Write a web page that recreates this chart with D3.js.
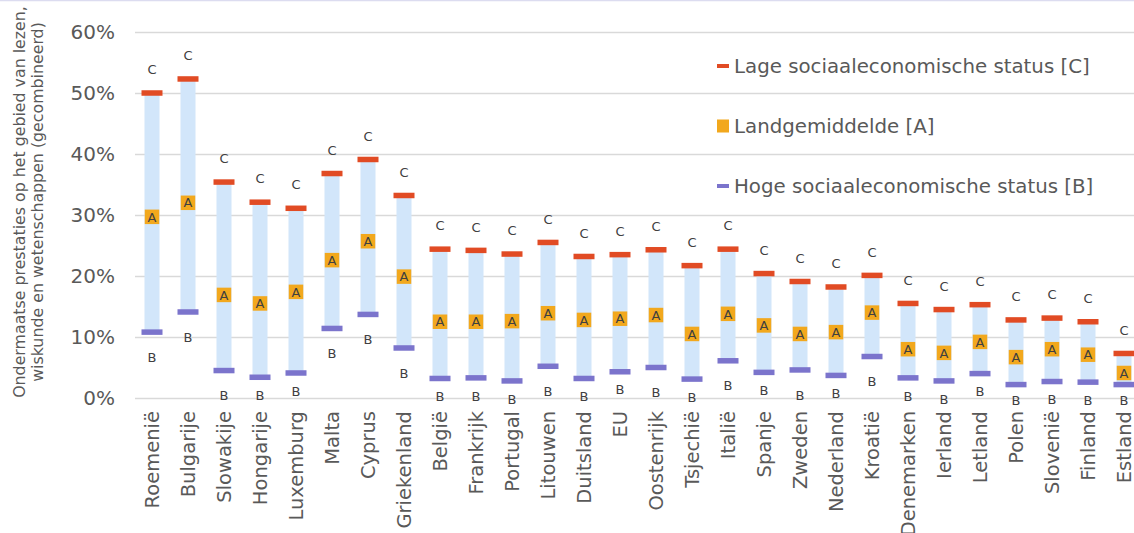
<!DOCTYPE html>
<html>
<head>
<meta charset="utf-8">
<script src="https://cdn.jsdelivr.net/npm/d3@7"></script>
<style>
  body { margin: 0; background: #fff; }
  svg { display: block; font-family: "DejaVu Sans", Verdana, sans-serif; }
</style>
</head>
<body>
<div id="chart"></div>
<script>
// countries, sorted as in the source figure
const countries = ["Roemenië", "Bulgarije", "Slowakije", "Hongarije", "Luxemburg", "Malta", "Cyprus",
  "Griekenland", "België", "Frankrijk", "Portugal", "Litouwen", "Duitsland", "EU", "Oostenrijk",
  "Tsjechië", "Italië", "Spanje", "Zweden", "Nederland", "Kroatië", "Denemarken", "Ierland",
  "Letland", "Polen", "Slovenië", "Finland", "Estland"];

// [C] lage sociaaleconomische status (%)
const lowSes = [50.0, 52.3, 35.4, 32.1, 31.1, 36.8, 39.1, 33.2, 24.4, 24.2, 23.6, 25.5, 23.2, 23.5, 24.3,
  21.7, 24.4, 20.4, 19.1, 18.2, 20.1, 15.5, 14.5, 15.3, 12.8, 13.1, 12.5, 7.3];

// [A] landgemiddelde (%)
const average = [29.7, 32.0, 16.9, 15.5, 17.4, 22.6, 25.7, 19.9, 12.5, 12.5, 12.6, 13.9, 12.8, 13.0, 13.6,
  10.5, 13.8, 11.9, 10.5, 10.8, 14.0, 8.0, 7.4, 9.2, 6.7, 8.0, 7.1, 4.1];

// [B] hoge sociaaleconomische status (%)
const highSes = [10.8, 14.1, 4.5, 3.4, 4.1, 11.4, 13.7, 8.2, 3.2, 3.3, 2.8, 5.2, 3.2, 4.3, 5.0,
  3.1, 6.1, 4.2, 4.6, 3.7, 6.8, 3.3, 2.8, 4.0, 2.2, 2.7, 2.6, 2.2];

const yTicks = [0, 10, 20, 30, 40, 50, 60];

const legendItems = [
  { label: "Lage sociaaleconomische status [C]", color: "#e14b24", shape: "dash" },
  { label: "Landgemiddelde [A]", color: "#f2a81d", shape: "square" },
  { label: "Hoge sociaaleconomische status [B]", color: "#7b74cc", shape: "dash" }
];

const width = 1134, height = 533;
const textColor = "#595959";

const svg = d3.select("#chart")
  .append("svg")
  .attr("width", width)
  .attr("height", height);

// thin frame line on top
svg.append("line")
  .attr("x1", 0).attr("x2", width)
  .attr("y1", 0.5).attr("y2", 0.5)
  .style("stroke", "#dcdcf0")
  .style("stroke-width", 1.5);

const x = d3.scaleBand()
  .domain(countries)
  .range([134, 1142]);

const y = d3.scaleLinear()
  .domain([0, 60])
  .range([398, 32]);

// gridlines + y labels
const yAxis = svg.append("g")
  .attr("transform", "translate(135,0)")
  .call(d3.axisLeft(y)
    .tickValues(yTicks)
    .tickSize(-(width - 135))
    .tickPadding(20)
    .tickFormat(d => d + "%"));
yAxis.select(".domain").remove();
yAxis.selectAll(".tick line")
  .style("stroke", "#d9d9d9")
  .style("stroke-width", 1.5);
yAxis.selectAll(".tick text")
  .style("font-size", "20px")
  .style("fill", textColor)
  .style("font-family", "DejaVu Sans, sans-serif");

// y title
svg.append("text")
  .attr("transform", "translate(25,202) rotate(-90)")
  .attr("text-anchor", "middle")
  .style("font-size", "15.8px")
  .style("fill", textColor)
  .selectAll("tspan")
  .data(["Ondermaatse prestaties op het gebied van lezen,", "wiskunde en wetenschappen (gecombineerd)"])
  .join("tspan")
  .attr("x", 0)
  .attr("dy", (d, i) => i === 0 ? 0 : 17.5)
  .text(d => d);

const rows = countries.map((c, i) => ({ country: c, low: lowSes[i], avg: average[i], high: highSes[i] }));
const cx = d => x(d.country) + x.bandwidth() / 2;

// light blue range bars
svg.append("g")
  .selectAll("rect")
  .data(rows)
  .join("rect")
  .attr("x", d => cx(d) - 7.5)
  .attr("width", 15)
  .attr("y", d => y(d.low))
  .attr("height", d => y(d.high) - y(d.low))
  .attr("fill", "#d2e6fa");

// low SES markers (red)
svg.append("g")
  .selectAll("rect")
  .data(rows)
  .join("rect")
  .attr("x", d => cx(d) - 10.5)
  .attr("width", 21)
  .attr("y", d => y(d.low) - 2.75)
  .attr("height", 5.5)
  .attr("fill", "#e14b24");

// high SES markers (purple)
svg.append("g")
  .selectAll("rect")
  .data(rows)
  .join("rect")
  .attr("x", d => cx(d) - 10.5)
  .attr("width", 21)
  .attr("y", d => y(d.high) - 2.75)
  .attr("height", 5.5)
  .attr("fill", "#7b74cc");

// average markers (orange squares with A)
const avgG = svg.append("g")
  .selectAll("g")
  .data(rows)
  .join("g")
  .attr("transform", d => `translate(${cx(d)},${y(d.avg)})`);
avgG.append("rect")
  .attr("x", -7.25).attr("y", -7.25)
  .attr("width", 14.5).attr("height", 14.5)
  .attr("fill", "#f2a81d");
avgG.append("text")
  .attr("text-anchor", "middle")
  .attr("dy", "0.36em")
  .style("font-size", "13px")
  .style("fill", "#404040")
  .text("A");

// C labels above the red markers
svg.append("g")
  .selectAll("text")
  .data(rows)
  .join("text")
  .attr("x", cx)
  .attr("y", d => y(d.low) - 23.5)
  .attr("dy", "0.36em")
  .attr("text-anchor", "middle")
  .style("font-size", "13px")
  .style("fill", "#404040")
  .text("C");

// B labels below the purple markers, pushed up when close to the axis
svg.append("g")
  .selectAll("text")
  .data(rows)
  .join("text")
  .attr("x", cx)
  .attr("y", d => {
    const m = y(d.high);
    const p = m + 25 <= 396 ? m + 25 : m + 18;
    return Math.min(p, 400);
  })
  .attr("dy", "0.36em")
  .attr("text-anchor", "middle")
  .style("font-size", "13px")
  .style("fill", "#404040")
  .text("B");

// category labels
svg.append("g")
  .selectAll("text")
  .data(countries)
  .join("text")
  .attr("transform", d => `translate(${x(d) + x.bandwidth() / 2},411) rotate(-90)`)
  .attr("dy", "0.35em")
  .attr("text-anchor", "end")
  .style("font-size", "19.5px")
  .style("fill", textColor)
  .text(d => d);

// legend
const leg = svg.append("g")
  .selectAll("g")
  .data(legendItems)
  .join("g")
  .attr("transform", (d, i) => `translate(717,${66 + i * 60})`);
leg.append("rect")
  .attr("x", 0)
  .attr("y", d => d.shape === "dash" ? -2 : -6.5)
  .attr("width", 12)
  .attr("height", d => d.shape === "dash" ? 4 : 13)
  .attr("fill", d => d.color);
leg.append("text")
  .attr("x", 17)
  .attr("dy", "0.36em")
  .style("font-size", "19.8px")
  .style("fill", textColor)
  .text(d => d.label);
</script>
</body>
</html>
